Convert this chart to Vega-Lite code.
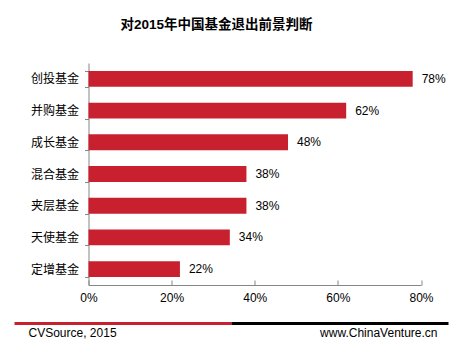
{
  "$schema": "https://vega.github.io/schema/vega-lite/v6.json",
  "padding": {"left": 12.5, "top": 18, "right": 5, "bottom": 5},
  "background": "white",
  "spacing": 18.5,
  "config": {"view": {"stroke": null}},
  "vconcat": [
    {
      "width": 332.5,
      "height": 222,
      "title": {
        "text": "对2015年中国基金退出前景判断",
        "font": "Liberation Sans, Noto Sans CJK SC",
        "fontSize": 13.5,
        "fontWeight": "bold",
        "color": "#000000",
        "anchor": "start",
        "frame": "group",
        "dx": 32,
        "offset": 25.5
      },
      "data": {
        "values": [
          {"type": "创投基金", "share": 0.78},
          {"type": "并购基金", "share": 0.62},
          {"type": "成长基金", "share": 0.48},
          {"type": "混合基金", "share": 0.38},
          {"type": "夹层基金", "share": 0.38},
          {"type": "天使基金", "share": 0.34},
          {"type": "定增基金", "share": 0.22}
        ]
      },
      "encoding": {
        "y": {
          "field": "type",
          "type": "nominal",
          "sort": null,
          "title": null,
          "scale": {"paddingInner": 0.5, "paddingOuter": 0.25},
          "axis": {
            "labelFont": "Noto Sans CJK SC",
            "labelFontSize": 12,
            "labelColor": "#000000",
            "domainColor": "#868686",
            "tickColor": "#868686",
            "tickSize": 4,
            "labelPadding": 6,
            "tickBand": "extent",
            "grid": false
          }
        },
        "x": {
          "field": "share",
          "type": "quantitative",
          "title": null,
          "scale": {"domain": [0, 0.8], "nice": false},
          "axis": {
            "values": [0, 0.2, 0.4, 0.6, 0.8],
            "format": ".0%",
            "labelFont": "Liberation Sans",
            "labelFontSize": 12,
            "labelColor": "#000000",
            "labelFlush": false,
            "labelOverlap": false,
            "domainColor": "#868686",
            "tickColor": "#868686",
            "tickSize": -5,
            "labelPadding": 12,
            "grid": false
          }
        }
      },
      "layer": [
        {"mark": {"type": "bar", "color": "#c8202f"}},
        {
          "mark": {
            "type": "text",
            "align": "left",
            "baseline": "middle",
            "dx": 9,
            "font": "Liberation Sans",
            "fontSize": 12,
            "color": "#000000"
          },
          "encoding": {"text": {"field": "share", "type": "quantitative", "format": ".0%"}}
        }
      ]
    },
    {
      "width": 360,
      "height": 2,
      "data": {"values": [{}]},
      "layer": [
        {
          "mark": {"type": "rule", "strokeWidth": 3, "color": "#c8202f", "xOffset": -74, "x2Offset": -37},
          "encoding": {
            "x": {"datum": 0, "type": "quantitative", "scale": {"domain": [0, 1], "nice": false}, "axis": null},
            "x2": {"datum": 0.5}
          }
        },
        {
          "mark": {"type": "rule", "strokeWidth": 3, "color": "#000000", "xOffset": -37},
          "encoding": {
            "x": {"datum": 0.5, "type": "quantitative"},
            "x2": {"datum": 1}
          }
        },
        {
          "mark": {"type": "text", "align": "left", "baseline": "alphabetic", "dx": -60, "dy": 13, "font": "Liberation Sans", "fontSize": 12, "color": "#000000"},
          "encoding": {
            "x": {"datum": 0, "type": "quantitative"},
            "text": {"value": "CVSource, 2015"}
          }
        },
        {
          "mark": {"type": "text", "align": "right", "baseline": "alphabetic", "dx": -11, "dy": 13, "font": "Liberation Sans", "fontSize": 12, "color": "#000000"},
          "encoding": {
            "x": {"datum": 1, "type": "quantitative"},
            "text": {"value": "www.ChinaVenture.cn"}
          }
        }
      ]
    }
  ]
}
